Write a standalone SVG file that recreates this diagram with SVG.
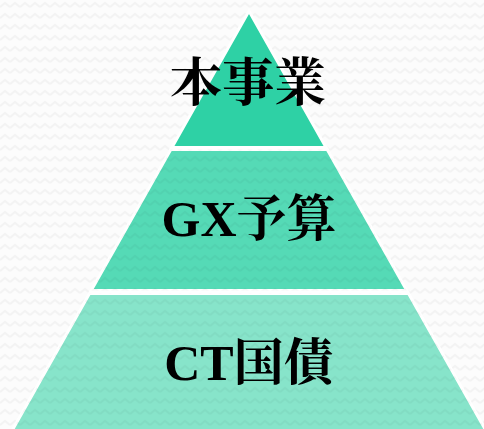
<svg xmlns="http://www.w3.org/2000/svg" width="484" height="429" viewBox="0 0 484 429">
  <defs>
    <pattern id="zig" width="10" height="11" patternUnits="userSpaceOnUse">
      <path d="M0,7 L5,3 L10,7" fill="none" stroke="#000" stroke-opacity="0.035" stroke-width="2"/>
    </pattern>
    <style>
      .tier { stroke: #ffffff; stroke-width: 3; stroke-linejoin: miter; }
      .t1 { fill: #2ed1a5; }
      .t2 { fill: #55dab6; }
      .t3 { fill: #87e4ca; }
      .label { font-family: "Liberation Serif", "Noto Serif CJK JP", "Noto Sans CJK JP", serif; font-weight: bold; fill: #000000; text-anchor: middle; }
    </style>
  </defs>
  <rect x="0" y="0" width="484" height="429" fill="#fcfcfc"/>
  <rect x="0" y="0" width="484" height="429" fill="url(#zig)"/>
  <g id="connectors"></g>
  <g id="tier-ct">
    <polygon class="tier t3" points="89.5,293.5 408.5,293.5 486.7,432 11.3,432"/>
    <polygon points="89.5,293.5 408.5,293.5 486.7,432 11.3,432" fill="url(#zig)"/>
    <text class="label" x="249" y="380" font-size="50">CT国債</text>
  </g>
  <g id="tier-gx">
    <polygon class="tier t2" points="170.8,149.5 327.2,149.5 406.8,290.5 91.2,290.5"/>
    <polygon points="170.8,149.5 327.2,149.5 406.8,290.5 91.2,290.5" fill="url(#zig)"/>
    <text class="label" x="249" y="236" font-size="50">GX予算</text>
  </g>
  <g id="tier-top">
    <polygon class="tier t1" points="249,11 326.1,147.5 171.9,147.5"/>
    <text class="label" x="248" y="101" font-size="52">本事業</text>
  </g>
</svg>
